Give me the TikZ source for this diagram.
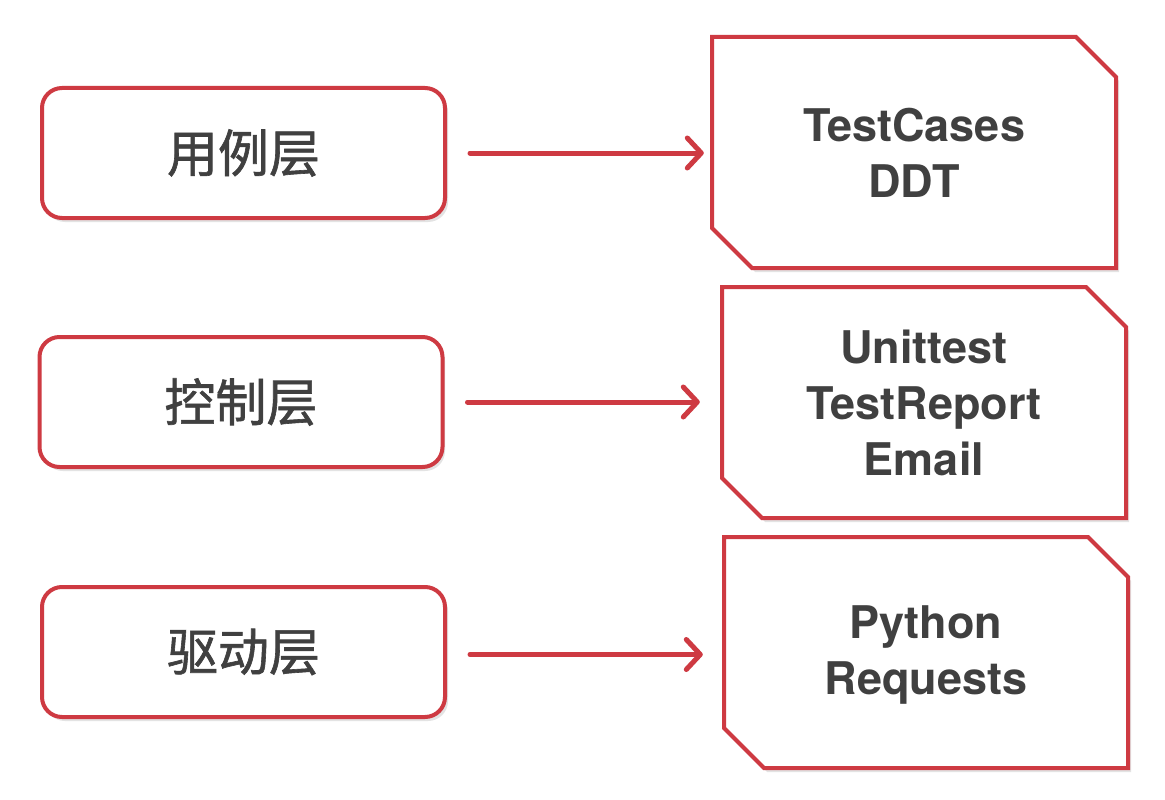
\documentclass[tikz,border=0pt]{standalone}
\usepackage{fontspec}
\setmainfont{TeX Gyre Heros}
\newfontfamily\cjk{Noto Sans CJK SC}[FakeBold=1.2]
\usetikzlibrary{arrows.meta}
\definecolor{boxred}{RGB}{206,58,66}
\definecolor{txtgray}{RGB}{64,64,64}
\definecolor{shadowgray}{RGB}{200,200,200}
\tikzset{
  leftbox/.style={draw=boxred, line width=4pt, rounded corners=20pt, fill=white,
    minimum width=403pt, minimum height=130pt, inner sep=0pt,
    font=\cjk\fontsize{51}{55}\selectfont, text=txtgray},
  lshadow/.style={fill=shadowgray, opacity=0.5, rounded corners=20pt},
  rightlabel/.style={inner sep=0pt, align=center, text=txtgray,
    font=\bfseries\fontsize{45}{56}\selectfont},
  chamfer/.style={draw=boxred, line width=4pt, fill=white, line join=miter},
  chshadow/.style={fill=shadowgray, opacity=0.5},
  link/.style={draw=boxred, line width=5pt, line cap=round,
    -{Straight Barb[length=14pt,width=30pt,line cap=round,line join=round]}},
}
\begin{document}
\begin{tikzpicture}[x=1pt,y=-1pt]
\useasboundingbox[fill=white] (0,0) rectangle (1165,800);

% shadows of left boxes
\fill[lshadow] (45,92) rectangle (448,222);
\fill[lshadow] (43,341) rectangle (445,471);
\fill[lshadow] (45,591) rectangle (448,721);

% left boxes
\node[leftbox] (l1) at (243.5,153) {用例层};
\node[leftbox] (l2) at (241,402) {控制层};
\node[leftbox] (l3) at (243.5,652) {驱动层};

% right boxes
\foreach \xa/\ya/\xb/\yb in {712/37/1116/268, 722/287/1126/518, 724/537/1128/768}{
  \fill[chshadow] (\xa+3,\ya+4) -- (\xb-40+3,\ya+4) -- (\xb+3,\ya+40+4) -- (\xb+3,\yb+4)
     -- (\xa+40+3,\yb+4) -- (\xa+3,\yb-40+4) -- cycle;
  \draw[chamfer] (\xa,\ya) -- (\xb-40,\ya) -- (\xb,\ya+40) -- (\xb,\yb)
     -- (\xa+40,\yb) -- (\xa,\yb-40) -- cycle;
}
\node[rightlabel, minimum width=404pt, minimum height=231pt] (r1) at (914,152.5) {TestCases\\DDT};
\node[rightlabel, minimum width=404pt, minimum height=231pt] (r2) at (924,402.5) {Unittest\\TestReport\\Email};
\node[rightlabel, minimum width=404pt, minimum height=231pt] (r3) at (926,654.5) {Python\\Requests};

% connectors
\draw[link, shorten <=23pt, shorten >=8pt] (l1.east) -- (l1.east -| r1.west);
\draw[link, shorten <=23pt, shorten >=22pt] (l2.east) -- (l2.east -| r2.west);
\draw[link, shorten <=23pt, shorten >=21pt] (l3.east |- r3.center) -- (r3.west);
\end{tikzpicture}
\end{document}
